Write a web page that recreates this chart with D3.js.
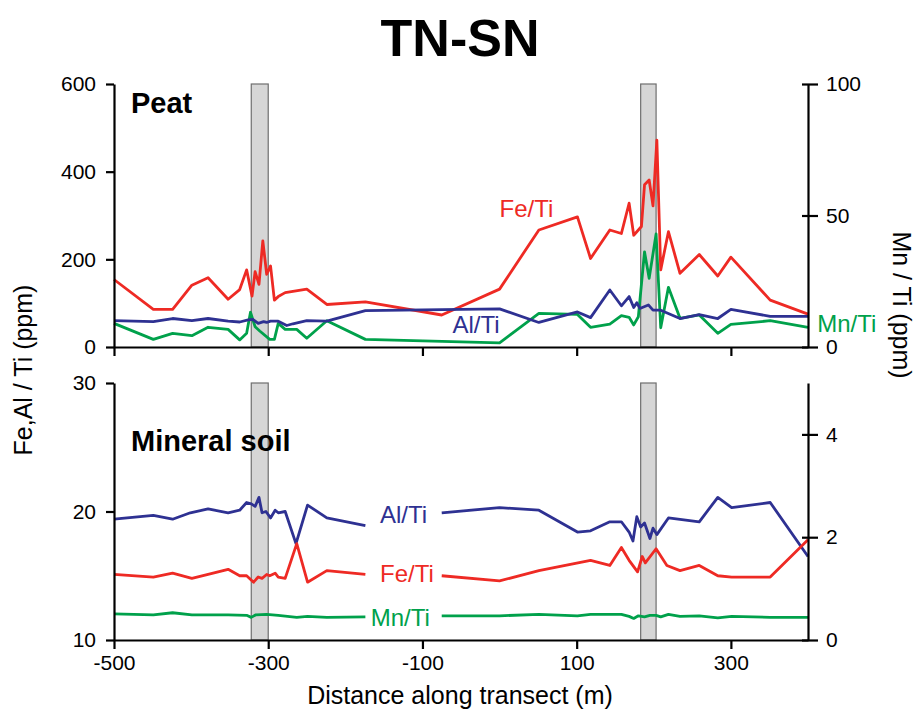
<!DOCTYPE html>
<html>
<head>
<meta charset="utf-8">
<script src="https://cdn.jsdelivr.net/npm/d3@7"></script>
<style>
  body { margin: 0; background: #fff; }
  svg text { font-family: "Liberation Sans", Arial, sans-serif; }
</style>
</head>
<body>
<svg id="chart" width="917" height="716"></svg>
<script>
// Peat: [distance m, value]
const peatFe = [[-500,154],[-449,86],[-424,86],[-399,141],[-378,158],[-352,109],[-337,131],[-328,176],[-321,116],[-317,172],[-312,143],[-307,242],[-302,166],[-297,185],[-292,107],[-287,115],[-278,124],[-250,132],[-224,97],[-174,103],[-75,73],[0,132],[51,267],[101,297],[118,202],[143,267],[158,259],[168,328],[174,255],[184,275],[188,370],[194,381],[199,322],[204,472],[209,176],[219,263],[234,168],[259,211],[283,162],[300,205],[351,107],[400,75]];
const peatAl = [[-500,60],[-449,58],[-424,65],[-399,60],[-378,65],[-352,59],[-337,57],[-326,62],[-320,63],[-313,54],[-306,58],[-302,56],[-297,59],[-287,59],[-276,49],[-268,53],[-250,60],[-224,59],[-174,83],[0,87],[51,56],[101,80],[118,67],[143,130],[158,94],[168,115],[174,90],[178,101],[182,88],[193,96],[199,84],[209,84],[234,65],[259,74],[283,65],[300,86],[351,70],[400,70]];
const peatMn = [[-500,9.0],[-449,2.9],[-424,5.2],[-399,4.3],[-378,7.5],[-352,6.7],[-337,2.7],[-328,5.2],[-323,13.2],[-317,7.7],[-311,6.1],[-298,2.9],[-292,2.9],[-287,9.0],[-278,6.7],[-263,6.7],[-250,3.3],[-224,10.0],[-174,2.9],[0,1.6],[51,12.8],[101,12.4],[118,7.5],[143,8.7],[158,11.9],[168,11.3],[174,8.4],[180,11.5],[188,36.2],[194,26.1],[203,43.0],[209,7.3],[219,22.7],[234,10.9],[259,12.2],[283,5.2],[300,8.6],[351,10.0],[400,7.5]];

// Mineral soil (null = gap where the labels sit)
const soilAl = [[-500,19.4],[-449,19.7],[-424,19.4],[-401,19.9],[-378,20.2],[-352,19.9],[-337,20.1],[-328,20.7],[-322,20.6],[-317,20.4],[-312,21.1],[-308,19.9],[-303,20.0],[-297,19.5],[-291,20.1],[-287,19.9],[-278,20.0],[-264,17.5],[-249,20.5],[-224,19.5],[-174,18.9],[-125,null],[-75,19.9],[0,20.3],[51,20.1],[101,18.4],[118,18.5],[143,19.2],[158,19.2],[168,18.4],[173,17.7],[178,19.6],[183,18.8],[188,19.1],[195,17.9],[199,18.7],[204,18.2],[219,19.5],[259,19.2],[283,21.1],[301,20.3],[351,20.7],[400,16.5]];
const soilFe = [[-500,15.1],[-449,14.9],[-424,15.2],[-399,14.8],[-378,15.1],[-352,15.5],[-337,15.0],[-328,15.0],[-319,14.5],[-313,14.9],[-308,14.8],[-302,15.1],[-298,15.0],[-291,15.2],[-287,14.9],[-278,14.8],[-263,17.5],[-249,14.5],[-224,15.4],[-174,15.1],[-125,null],[-75,15.0],[0,14.6],[51,15.4],[118,16.2],[143,15.8],[158,17.2],[168,16.2],[179,15.3],[185,16.5],[189,16.0],[203,17.1],[217,15.8],[234,15.4],[259,15.8],[283,15.0],[301,14.9],[351,14.9],[400,17.8]];
const soilMn = [[-500,0.51],[-449,0.49],[-424,0.53],[-399,0.49],[-352,0.49],[-328,0.48],[-322,0.44],[-316,0.49],[-302,0.50],[-287,0.48],[-263,0.44],[-249,0.46],[-224,0.44],[-174,0.45],[-125,null],[-75,0.47],[0,0.47],[51,0.50],[101,0.47],[118,0.50],[158,0.50],[168,0.46],[174,0.42],[180,0.47],[188,0.45],[195,0.48],[203,0.48],[209,0.45],[219,0.50],[234,0.46],[259,0.47],[283,0.43],[301,0.46],[351,0.44],[400,0.44]];

const zones = [[-322,-300],[183,203]];
const xTicks = [-500,-300,-100,100,300];
const peatLeftTicks = [0,200,400,600];
const peatRightTicks = [0,50,100];
const soilLeftTicks = [10,20,30];
const soilRightTicks = [0,2,4];

const RED = "#ee2a24", BLUE = "#2e3192", GREEN = "#00a14b";

const svg = d3.select("#chart");

const x = d3.scaleLinear().domain([-500, 400]).range([114, 808]);
const yPeat = d3.scaleLinear().domain([0, 600]).range([347, 84]);
const yPeatMn = d3.scaleLinear().domain([0, 100]).range([347, 84]);
const ySoil = d3.scaleLinear().domain([10, 30]).range([640, 383]);
const ySoilMn = d3.scaleLinear().domain([0, 5]).range([640, 383]);

// title
svg.append("text")
    .attr("x", 460).attr("y", 56)
    .attr("text-anchor", "middle")
    .style("font-size", "52px").style("font-weight", "bold")
    .text("TN-SN");

function panel(yL, yR, leftTicks, rightTicks, series, showXLabels, name, nameY) {
    const top = yL.range()[1], bottom = yL.range()[0];

    // grey zones
    svg.append("g").selectAll("rect")
        .data(zones)
        .enter().append("rect")
        .attr("x", d => x(d[0]))
        .attr("y", top)
        .attr("width", d => x(d[1]) - x(d[0]))
        .attr("height", bottom - top)
        .attr("fill", "#d6d6d6")
        .attr("stroke", "#6e6e6e")
        .attr("stroke-width", 1.2);

    series.forEach(s => {
        const line = d3.line()
            .defined(d => d[1] != null)
            .x(d => x(d[0]))
            .y(d => s.scale(d[1]));
        svg.append("path")
            .datum(s.data)
            .attr("fill", "none")
            .attr("stroke", s.color)
            .attr("stroke-width", 2.8)
            .attr("stroke-linejoin", "round")
            .attr("d", line);
    });

    // axes
    const gx = svg.append("g")
        .attr("transform", `translate(0, ${bottom})`)
        .call(d3.axisBottom(x).tickValues(xTicks).tickSizeInner(9).tickSizeOuter(0)
            .tickPadding(6)
            .tickFormat(d => showXLabels ? String(d) : ""));

    const gl = svg.append("g")
        .attr("transform", `translate(${x.range()[0]}, 0)`)
        .call(d3.axisLeft(yL).tickValues(leftTicks).tickSizeInner(8).tickSizeOuter(0)
            .tickPadding(10).tickFormat(d => String(d)));

    const gr = svg.append("g")
        .attr("transform", `translate(${x.range()[1]}, 0)`)
        .call(d3.axisRight(yR).tickValues(rightTicks).tickSizeInner(10).tickSizeOuter(0)
            .tickPadding(8).tickFormat(d => String(d)));
    gr.selectAll(".tick line").attr("x1", -6);

    [gx, gl, gr].forEach(g => {
        g.select(".domain").attr("stroke", "#000").attr("stroke-width", 2.2);
        g.selectAll(".tick line").attr("stroke", "#000").attr("stroke-width", 2.2);
        g.selectAll(".tick text")
            .attr("fill", "#000")
            .style("font-size", "21px")
            .style("font-family", "'Liberation Sans', Arial, sans-serif");
    });

    svg.append("text")
        .attr("x", 131).attr("y", nameY)
        .style("font-size", "29px").style("font-weight", "bold")
        .text(name);
}

panel(yPeat, yPeatMn, peatLeftTicks, peatRightTicks, [
    { data: peatFe, scale: yPeat, color: RED },
    { data: peatMn, scale: yPeatMn, color: GREEN },
    { data: peatAl, scale: yPeat, color: BLUE }
], false, "Peat", 113);

panel(ySoil, ySoilMn, soilLeftTicks, soilRightTicks, [
    { data: soilAl, scale: ySoil, color: BLUE },
    { data: soilFe, scale: ySoil, color: RED },
    { data: soilMn, scale: ySoilMn, color: GREEN }
], true, "Mineral soil", 451);

// series labels
const labels = [
    { text: "Fe/Ti", x: 0, y: yPeat(296), color: RED },
    { text: "Al/Ti", x: -61, y: yPeat(33), color: BLUE },
    { text: "Mn/Ti", x: 412, y: yPeatMn(5.7), color: GREEN },
    { text: "Al/Ti", x: -155, y: ySoil(19.1), color: BLUE },
    { text: "Fe/Ti", x: -155, y: ySoil(14.5), color: RED },
    { text: "Mn/Ti", x: -167, y: ySoilMn(0.27), color: GREEN }
];
svg.append("g").selectAll("text")
    .data(labels)
    .enter().append("text")
    .attr("x", d => x(d.x))
    .attr("y", d => d.y)
    .attr("fill", d => d.color)
    .style("font-size", "24px")
    .text(d => d.text);

// axis titles
svg.append("text")
    .attr("x", 460).attr("y", 704)
    .attr("text-anchor", "middle")
    .style("font-size", "25px")
    .text("Distance along transect (m)");

svg.append("text")
    .attr("transform", "translate(32, 370) rotate(-90)")
    .attr("text-anchor", "middle")
    .style("font-size", "25px")
    .text("Fe,Al / Ti (ppm)");

svg.append("text")
    .attr("transform", "translate(893, 305) rotate(90)")
    .attr("text-anchor", "middle")
    .style("font-size", "25px")
    .text("Mn / Ti (ppm)");
</script>
</body>
</html>
